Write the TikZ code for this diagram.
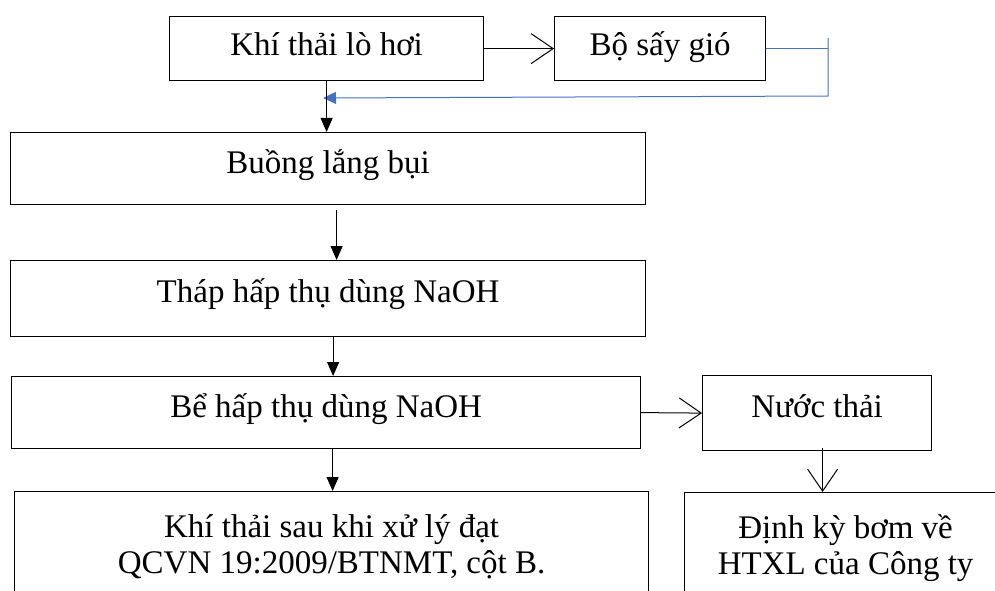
\documentclass[tikz,border=0pt]{standalone}
\usepackage{fontspec}
\setmainfont{Liberation Serif}
\usetikzlibrary{arrows.meta,calc}
\definecolor{wordblue}{HTML}{4472C4}
\begin{document}
\begin{tikzpicture}[x=1pt,y=-1pt,
  box/.style={draw=black, line width=1.2pt, anchor=north west, inner sep=0pt},
  lbl/.style={anchor=base, font=\fontsize{33}{36}\selectfont, inner sep=0pt},
  lbl2/.style={anchor=center, align=center, font=\fontsize{33}{36}\selectfont, inner sep=0pt},
  flow/.style={line width=1pt, -{Triangle[length=14pt,width=12pt]}},
  openarr/.style={line width=1pt, -{Straight Barb[length=22pt,width=30pt]}},
  fb/.style={draw=wordblue, line width=1pt}
]
\useasboundingbox (0,0) rectangle (995,591);
\clip (0,0) rectangle (995,591);

% boxes
\node[box, minimum width=314pt, minimum height=64pt] (k1) at (169,16) {};
\node[box, minimum width=211pt, minimum height=64pt] (k2) at (554,16) {};
\node[box, minimum width=635pt, minimum height=72pt] (bl) at (10,132) {};
\node[box, minimum width=635pt, minimum height=76pt] (th) at (10,260) {};
\node[box, minimum width=629pt, minimum height=72pt] (be) at (11,376) {};
\node[box, minimum width=229pt, minimum height=75pt] (nu) at (702,375) {};
\node[box, minimum width=634pt, minimum height=130pt] (kb) at (14,491) {};
\node[box, minimum width=322pt, minimum height=130pt] (db) at (684,492) {};

% texts
\node[lbl] (k1t) at ($(k1.north)+(0,40)$) {Khí thải lò hơi};
\node[lbl] (k2t) at ($(k2.north)+(0,40)$) {Bộ sấy gió};
\node[lbl] (blt) at ($(bl.north)+(0,41)$) {Buồng lắng bụi};
\node[lbl] (tht) at ($(th.north)+(0,42)$) {Tháp hấp thụ dùng NaOH};
\node[lbl] (bet) at ($(be.north)+(0,41)$) {Bể hấp thụ dùng NaOH};
\node[lbl] (nut) at ($(nu.north)+(0,42)$) {Nước thải};
\node[lbl2] (kbt) at ($(kb.north)+(0,56)$) {Khí thải sau khi xử lý đạt\\QCVN 19:2009/BTNMT, cột B.};
\node[lbl2] (dbt) at ($(db.north)+(0,56)$) {Định kỳ bơm về\\HTXL của Công ty};

% connectors
\draw[openarr] (k1.east) -- (k2.west);
\coordinate (bt) at (828,38);
\coordinate (bb) at (828,96);
\coordinate (ba) at (323,98);
\draw[fb] (k2.east) -- (k2.east -| bt);
\draw[fb, -{Triangle[length=13pt,width=12pt]}, wordblue] (bt) -- (bb) -- (ba);
\draw[flow] (k1.south) -- (k1.south |- bl.north);
\draw[flow] ($(bl.south)+(8.5,5)$) -- ($(th.north)+(8.5,0)$);
\draw[flow] ($(th.south)+(5,0)$) -- ($(be.north)+(7,0)$);
\draw[openarr] (be.east) -- (nu.west);
\draw[flow] ($(be.south)+(6.5,0)$) -- ($(kb.north)+(1,0)$);
\draw[openarr] ($(nu.south)+(5.5,-3)$) -- ($(db.north)+(-23,0)$);
\end{tikzpicture}
\end{document}
